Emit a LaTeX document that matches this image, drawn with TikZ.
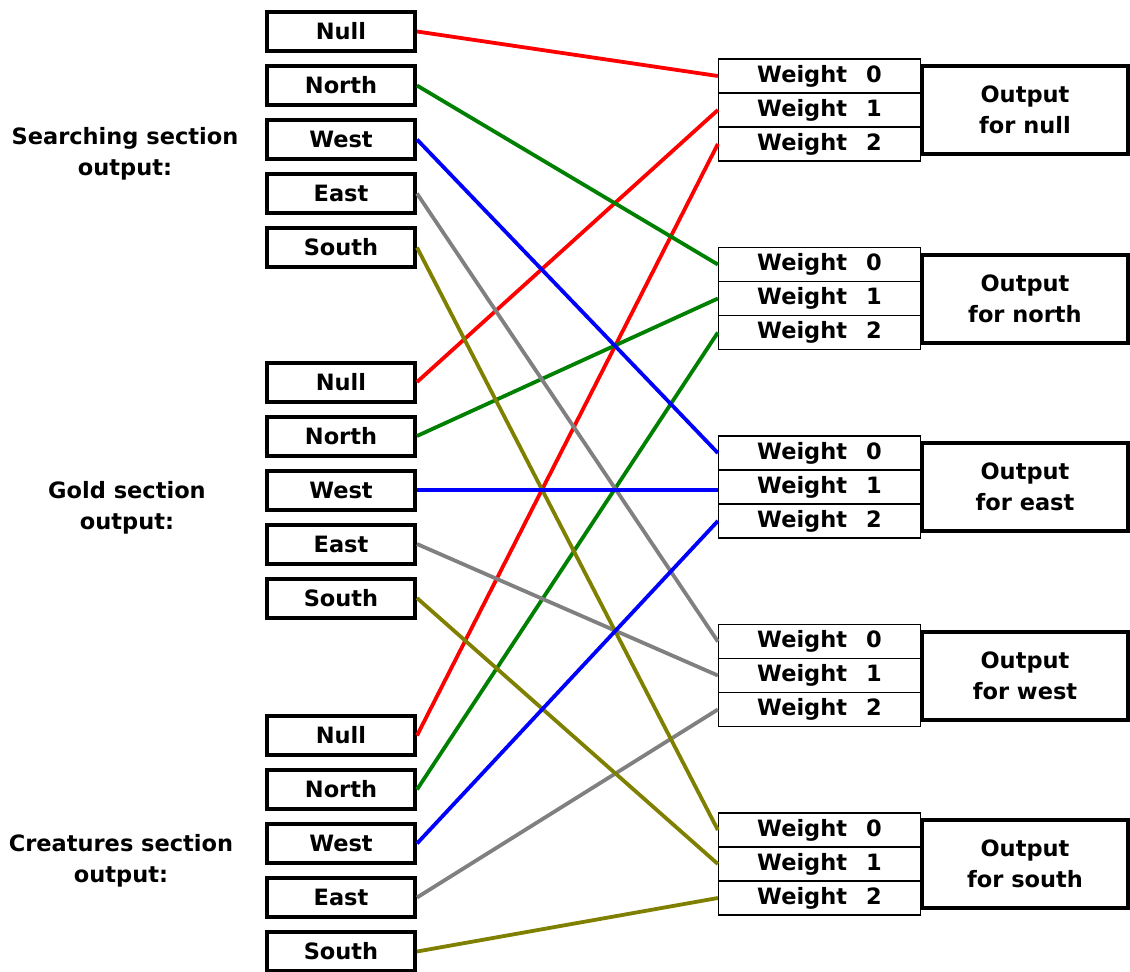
\documentclass[tikz,border=0pt]{standalone}
\usepackage{fontspec}
\setmainfont{DejaVu Sans}
\definecolor{wred}{RGB}{255,0,0}
\definecolor{wgreen}{RGB}{0,128,0}
\definecolor{wblue}{RGB}{0,0,255}
\definecolor{wgray}{RGB}{128,128,128}
\definecolor{wolive}{RGB}{128,128,0}
\begin{document}
\begin{tikzpicture}[x=1pt,y=-1pt,
  every node/.style={font=\fontsize{22.5}{31}\selectfont\bfseries},
  inbox/.style={draw,line width=4pt,minimum width=148pt,minimum height=39pt,inner sep=0pt},
  wbox/.style={draw,line width=1.3pt,minimum width=202pt,minimum height=34pt,inner sep=0pt},
  outbox/.style={draw,line width=4pt,minimum width=206pt,minimum height=88pt,align=center,inner sep=0pt},
  lbl/.style={align=center},
  wire/.style={line width=3.8pt},
]
\useasboundingbox (0,0) rectangle (1130,972);

% output groups
\foreach \k/\name in {0/null,1/north,2/east,3/west,4/south}{
  \pgfmathsetmacro{\T}{59+188.5*\k}
  \foreach \j in {0,1,2}{
    \node[wbox] (w\k-\j) at (819.5,\T+17+34*\j) {Weight\hspace{19pt}\j};
  }
  \node[outbox] (o\k) at (1025,\T+51) {Output\\for \name};
}

% input groups
\foreach \g/\y in {s/31.5,g/382,c/735.5}{
  \foreach \i/\txt in {0/Null,1/North,2/West,3/East,4/South}{
    \node[inbox] (\g\i) at (341,\y+54*\i) {\txt};
  }
}

% section labels
\node[lbl] (ls) at (125,154) {Searching section\\output:};
\node[lbl] (lg) at (127,508) {Gold section\\output:};
\node[lbl] (lc) at (121,861) {Creatures section\\output:};

% wires
\foreach \i/\col in {0/wred,1/wgreen,3/wgray,4/wolive}{
  \draw[wire,\col] (s\i.east) -- (w\i-0.west);
  \draw[wire,\col] (g\i.east) -- (w\i-1.west);
  \draw[wire,\col] (c\i.east) -- (w\i-2.west);
}
\draw[wire,wblue] (s2.east) -- (w2-0.west);
\draw[wire,wblue] (g2.east) -- (g2.east -| w2-1.west);
\draw[wire,wblue] (c2.east) -- (w2-2.west);
\end{tikzpicture}
\end{document}
